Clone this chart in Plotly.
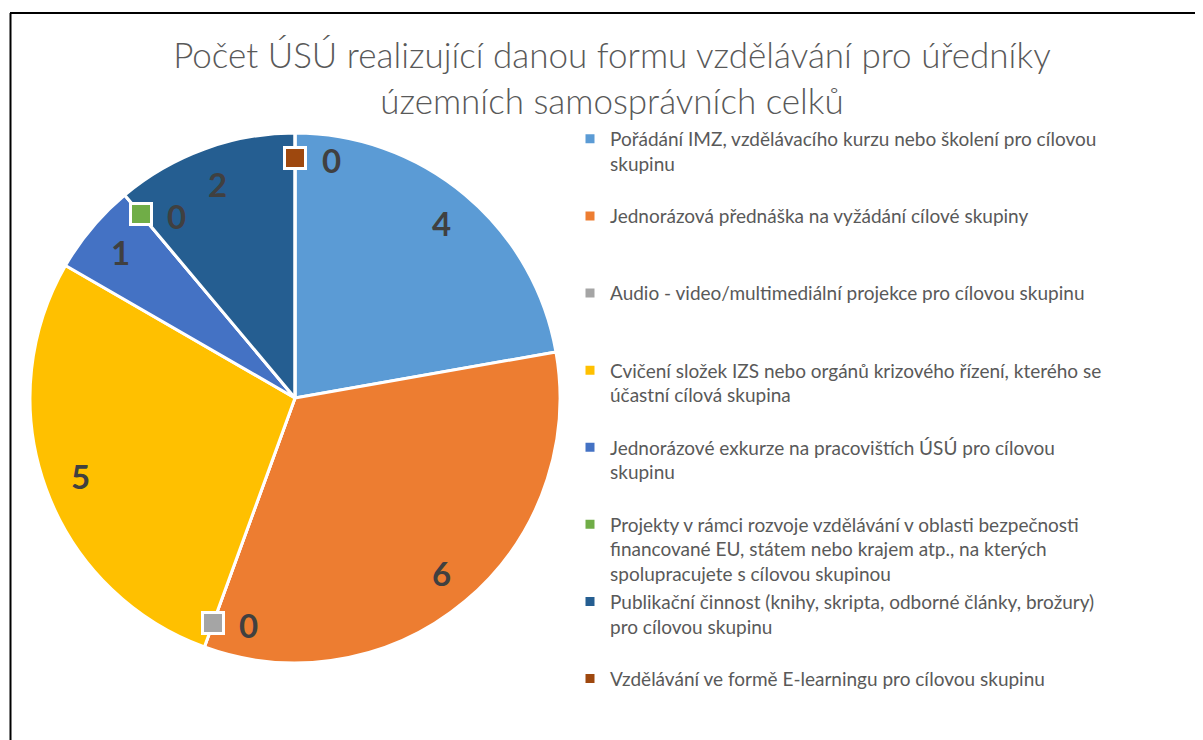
import math
import plotly.graph_objects as go

title_text = "Počet ÚSÚ realizující danou formu vzdělávání pro úředníky<br>územních samosprávních celků"

categories = [
    "Pořádání IMZ, vzdělávacího kurzu nebo školení pro cílovou<br>skupinu",
    "Jednorázová přednáška na vyžádání cílové skupiny",
    "Audio - video/multimediální projekce pro cílovou skupinu",
    "Cvičení složek IZS nebo orgánů krizového řízení, kterého se<br>účastní cílová skupina",
    "Jednorázové exkurze na pracovištích ÚSÚ pro cílovou<br>skupinu",
    "Projekty v rámci rozvoje vzdělávání v oblasti bezpečnosti<br>financované EU, státem nebo krajem atp., na kterých<br>spolupracujete s cílovou skupinou",
    "Publikační činnost (knihy, skripta, odborné články, brožury)<br>pro cílovou skupinu",
    "Vzdělávání ve formě E-learningu pro cílovou skupinu",
]
values = [4, 6, 0, 5, 1, 0, 2, 0]
colors = ["#5B9BD5", "#ED7D31", "#A5A5A5", "#FFC000", "#4472C4", "#70AD47", "#255E91", "#9E480E"]

# page is rendered with an 8px body margin; work in figure coordinates
OFF = 8
W, H = 1203 - OFF, 740 - OFF
cx, cy, R = 295 - OFF, 398 - OFF, 265

# pad legend labels to 3 lines for even spacing (last one needs no padding)
legend_labels = []
for i, c in enumerate(categories):
    n = c.count("<br>") + 1
    pad = 0 if i == len(categories) - 1 else 3 - n
    legend_labels.append(c + "<br>\u00a0" * pad)

fig = go.Figure()
fig.add_trace(go.Pie(
    labels=legend_labels,
    values=values,
    marker=dict(colors=colors, line=dict(color="white", width=3)),
    sort=False,
    direction="clockwise",
    rotation=0,
    textinfo="none",
    hoverinfo="label+value",
    domain=dict(x=[(cx - R) / W, (cx + R) / W], y=[1 - (cy + R) / H, 1 - (cy - R) / H]),
))

label_font = dict(family="Lato", size=33, color="#404040")
total = sum(values)
cum = 0
annotations = []
for v, col in zip(values, colors):
    start = cum / total * 2 * math.pi
    mid = (cum + v / 2) / total * 2 * math.pi
    if v > 0:
        r = 0.86 * R
        x = cx + r * math.sin(mid)
        y = cy - r * math.cos(mid)
        annotations.append(dict(x=x, y=y, xref="x", yref="y", text=f"<b>{v}</b>", showarrow=False,
                                font=label_font))
    else:
        r = 0.905 * R
        x = cx + r * math.sin(start)
        y = cy - r * math.cos(start)
        annotations.append(dict(x=x, y=y, xref="x", yref="y", text=" ", showarrow=False,
                                width=18, height=18, bgcolor=col, bordercolor="white", borderwidth=3,
                                borderpad=0, font=dict(size=2)))
        annotations.append(dict(x=x + 36, y=y + 2, xref="x", yref="y", text=f"<b>{v}</b>", showarrow=False,
                                font=label_font))
    cum += v

fig.update_layout(
    width=W, height=H,
    margin=dict(l=0, r=0, t=0, b=0),
    paper_bgcolor="white", plot_bgcolor="rgba(0,0,0,0)",
    xaxis=dict(range=[0, W], visible=False, domain=[0, 1], fixedrange=True),
    yaxis=dict(range=[H, 0], visible=False, domain=[0, 1], fixedrange=True),
    title=dict(text=title_text, x=(612 - OFF) / W, xanchor="center", y=1 - (68 - OFF) / H, yanchor="middle",
               font=dict(family="Lato", size=35, color="#595959", weight=300)),
    legend=dict(x=(570 - OFF) / W, y=1 - (120 - OFF) / H, xanchor="left", yanchor="top",
                font=dict(family="Lato", size=19, color="#595959"),
                valign="top", itemwidth=30, bgcolor="rgba(0,0,0,0)"),
    annotations=annotations,
    shapes=[
        dict(type="line", xref="x", yref="y", x0=10 - OFF, x1=W, y0=13 - OFF, y1=13 - OFF,
             line=dict(color="black", width=2)),
        dict(type="line", xref="x", yref="y", x0=10.5 - OFF, x1=10.5 - OFF, y0=13 - OFF, y1=H,
             line=dict(color="black", width=2)),
    ],
    showlegend=True,
)
# ensure cartesian axes exist for annotation/shape coordinates
fig.add_trace(go.Scatter(x=[], y=[], showlegend=False, hoverinfo="skip"))

fig.write_html("out.html")
